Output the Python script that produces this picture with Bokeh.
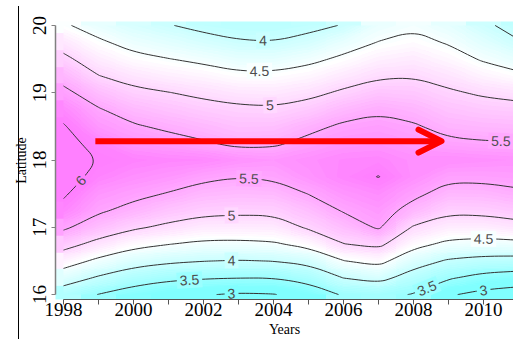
import math
import numpy as np
import contourpy
from bokeh.plotting import figure
from bokeh.models import (Range1d, FixedTicker, LinearColorMapper, Arrow, OpenHead,
                          ColumnDataSource)
from bokeh.core.properties import value, field
from bokeh.embed import file_html
from bokeh.resources import INLINE

# ---------------- data ----------------
years = [1998, 1999, 2000, 2001, 2002, 2003, 2004, 2005, 2006, 2007, 2008, 2009, 2010, 2011]
lats = [16.0, 16.25, 16.5, 16.75, 17.0, 17.25, 17.5, 17.75, 18.0,
        18.25, 18.5, 18.75, 19.0, 19.25, 19.5, 19.75, 20.0]

# field values along latitude (south -> north) for each year
col_1998 = [3.74, 4.24, 4.71, 5.16, 5.57, 5.88, 6.05, 6.15, 6.17, 6.10, 6.03, 5.85, 5.60, 5.35, 5.09, 4.83, 4.55]
col_1999 = [3.49, 3.95, 4.41, 4.87, 5.27, 5.56, 5.71, 5.90, 5.99, 5.90, 5.69, 5.53, 5.28, 5.01, 4.78, 4.56, 4.33]
col_2000 = [3.28, 3.73, 4.18, 4.63, 5.06, 5.38, 5.60, 5.78, 5.92, 5.71, 5.54, 5.32, 5.09, 4.85, 4.60, 4.37, 4.15]
col_2001 = [3.12, 3.60, 4.07, 4.51, 4.92, 5.21, 5.48, 5.70, 5.87, 5.64, 5.43, 5.22, 5.01, 4.75, 4.51, 4.26, 4.02]
col_2002 = [3.03, 3.54, 4.01, 4.42, 4.80, 5.11, 5.34, 5.58, 5.85, 5.54, 5.33, 5.13, 4.92, 4.68, 4.42, 4.14, 3.90]
col_2003 = [2.95, 3.51, 3.98, 4.41, 4.79, 5.08, 5.30, 5.51, 5.75, 5.41, 5.24, 5.07, 4.84, 4.58, 4.31, 4.03, 3.85]
col_2004 = [2.98, 3.51, 4.01, 4.45, 4.80, 5.09, 5.32, 5.55, 5.70, 5.44, 5.25, 5.05, 4.82, 4.58, 4.30, 4.01, 3.85]
col_2005 = [3.20, 3.67, 4.11, 4.63, 5.05, 5.27, 5.51, 5.72, 5.78, 5.60, 5.40, 5.15, 4.90, 4.66, 4.41, 4.12, 3.90]
col_2006 = [3.55, 4.01, 4.49, 4.99, 5.28, 5.53, 5.71, 5.88, 5.86, 5.71, 5.56, 5.33, 5.06, 4.81, 4.57, 4.33, 4.02]
col_2007 = [3.60, 4.15, 4.63, 5.10, 5.55, 5.68, 5.81, 6.01, 5.88, 5.74, 5.61, 5.45, 5.20, 4.95, 4.73, 4.51, 4.35]
col_2008 = [3.48, 3.80, 4.20, 4.63, 4.96, 5.34, 5.60, 5.78, 5.78, 5.66, 5.54, 5.37, 5.17, 4.98, 4.79, 4.60, 4.45]
col_2009 = [3.05, 3.55, 3.95, 4.41, 4.77, 5.08, 5.34, 5.59, 5.80, 5.57, 5.38, 5.22, 5.05, 4.86, 4.66, 4.47, 4.30]
col_2010 = [2.86, 3.36, 3.86, 4.36, 4.77, 5.10, 5.35, 5.59, 5.77, 5.53, 5.34, 5.15, 4.95, 4.70, 4.46, 4.25, 4.05]
col_2011 = [2.76, 3.28, 3.84, 4.39, 4.86, 5.18, 5.44, 5.62, 5.74, 5.52, 5.32, 5.12, 4.88, 4.58, 4.30, 4.02, 3.90]

contour_levels = [3, 3.5, 4, 4.5, 5, 5.5, 6]

# where the contour labels sit (level, approximate year, approximate latitude)
label_levels = [4, 4.5, 5, 5.5, 6, 5.5, 5, 4, 3.5, 3, 4.5, 3.5, 3]
label_years = [2003.7, 2003.6, 2003.9, 2010.5, 1998.7, 2003.3, 2002.8, 2002.8, 2001.6, 2002.8, 2010.0, 2008.4, 2010.0]
label_lats = [19.77, 19.3, 18.82, 18.3, 17.6, 17.74, 17.15, 16.5, 16.22, 16.01, 16.8, 16.07, 16.07]

x_ticks = [1998, 1999, 2000, 2001, 2002, 2003, 2004, 2005, 2006, 2007, 2008, 2009, 2010]
x_tick_labels = ["1998", "", "2000", "", "2002", "", "2004", "", "2006", "", "2008", "", "2010"]
y_ticks = [16, 17, 18, 19, 20]

arrow_years = [1998.91, 2008.8]
arrow_lat = 18.28

# colour scale limits (cyan -> white -> magenta)
color_low, color_high = 3.2, 5.95

# ---------------- layout ----------------
W, H = 513, 339
FL, FR, FT, FB = 55, 513, 21, 302          # frame edges in canvas pixels
FW, FH = FR - FL, FB - FT
X0, X1 = 1998 - 8 / 35, 1998 + 450 / 35
Y0, Y1 = 20 - 277 / 68, 20 + 4 / 68
SX, SY = FW / (X1 - X0), FH / (Y1 - Y0)

SERIF = "'Liberation Serif', 'Times New Roman', serif"

X = np.array(years, dtype=float)
Y = np.array(lats, dtype=float)
Z = np.array([col_1998, col_1999, col_2000, col_2001, col_2002, col_2003, col_2004,
              col_2005, col_2006, col_2007, col_2008, col_2009, col_2010, col_2011], dtype=float).T
zmin, zmax = float(Z.min()), float(Z.max())


def cm_rgb(t):
    t = min(max(t, 0.0), 1.0)
    if t < 0.5:
        s = 0.5 * (1 - 2 * t)
        return (round(255 * (1 - s)), 255, 255)
    s = 0.5 * (2 * t - 1)
    return (255, round(255 * (1 - s)), 255)


def hexc(rgb):
    return "#%02x%02x%02x" % rgb


def zcol(v):
    return hexc(cm_rgb((v - color_low) / (color_high - color_low)))


palette = [hexc(cm_rgb(i / 255)) for i in range(256)]

p = figure(width=W, height=H, x_range=Range1d(X0, X1), y_range=Range1d(Y0, Y1),
           output_backend="svg", toolbar_location=None,
           min_border_left=FL, min_border_right=W - FR, min_border_top=FT, min_border_bottom=H - FB)
p.outline_line_color = None
p.grid.visible = False
p.background_fill_color = "white"
p.border_fill_alpha = 0
# thin black vertical rule at the far left of the picture
p.styles = {
    "background-color": "white",
    "background-image": "linear-gradient(black, black)",
    "background-size": "1px 333px",
    "background-position": "18px 6px",
    "background-repeat": "no-repeat",
}

dx = X[1] - X[0]
dy = Y[1] - Y[0]
mapper = LinearColorMapper(palette=palette, low=color_low, high=color_high,
                           low_color=palette[0], high_color=palette[-1])
p.image(image=[Z], x=X[0] - dx / 2, y=Y[0] - dy / 2, dw=dx * len(X), dh=dy * len(Y),
        color_mapper=mapper)

step = 0.05
fill_levels = list(np.arange(math.floor(zmin / step) * step, zmax + step, step))
band_colors = [zcol((a + b) / 2) for a, b in zip(fill_levels[:-1], fill_levels[1:])]
p.contour(x=X, y=Y, z=Z, levels=fill_levels, fill_color=band_colors, line_color=None)

# ---- contour lines (computed by contourpy, corner-rounded for drawing) ----
gen = contourpy.contour_generator(x=X, y=Y, z=Z)


def chaikin(pts, n=3):
    closed = len(pts) > 3 and np.allclose(pts[0], pts[-1])
    for _ in range(n):
        if len(pts) < 3:
            break
        q = 0.75 * pts[:-1] + 0.25 * pts[1:]
        r = 0.25 * pts[:-1] + 0.75 * pts[1:]
        new = np.empty((2 * len(q), 2))
        new[0::2] = q
        new[1::2] = r
        if closed:
            pts = np.vstack([new, new[:1]])
        else:
            pts = np.vstack([pts[:1], new, pts[-1:]])
    return pts


lines_by_level = {}
mx, my = [], []
for lev in contour_levels:
    segs = [chaikin(np.asarray(s, dtype=float)) for s in gen.lines(lev)]
    lines_by_level[lev] = segs
    for s in segs:
        mx.append(list(s[:, 0]))
        my.append(list(s[:, 1]))
p.multi_line(xs=mx, ys=my, line_color="#333333", line_width=1)


def place(level, tx, ty):
    best = None
    for pts in lines_by_level[level]:
        for i in range(len(pts) - 1):
            x0, y0 = pts[i]
            x1, y1 = pts[i + 1]
            ax, ay = (x1 - x0) * SX, (y1 - y0) * SY
            bx, by = (tx - x0) * SX, (ty - y0) * SY
            L2 = ax * ax + ay * ay
            t = 0.0 if L2 == 0 else max(0.0, min(1.0, (ax * bx + ay * by) / L2))
            px, py = x0 + t * (x1 - x0), y0 + t * (y1 - y0)
            d = ((px - tx) * SX) ** 2 + ((py - ty) * SY) ** 2
            if best is None or d < best[0]:
                ang = math.atan2(ay, ax)
                if ang > math.pi / 2:
                    ang -= math.pi
                if ang < -math.pi / 2:
                    ang += math.pi
                best = (d, px, py, ang)
    return best[1], best[2], best[3]


lx, ly, la, lt, lb = [], [], [], [], []
for lev, tx, ty in zip(label_levels, label_years, label_lats):
    px, py, ang = place(lev, tx, ty)
    lx.append(px)
    ly.append(py)
    la.append(ang)
    lt.append("%g" % lev)
    lb.append(zcol(lev))

src = ColumnDataSource(dict(x=lx, y=ly, text=lt, angle=la, bg=lb))
p.text(x="x", y="y", text="text", angle="angle", source=src,
       text_align="center", text_baseline="middle",
       text_font=value("Liberation Sans"), text_font_size="14px", text_color="#4d4d4d",
       background_fill_color=field("bg"), padding=3)

# ---- red arrow ----
p.add_layout(Arrow(end=OpenHead(size=23, line_color="red", line_width=6,
                                line_cap="round", line_join="round"),
                   x_start=arrow_years[0], y_start=arrow_lat,
                   x_end=arrow_years[1], y_end=arrow_lat,
                   line_color="red", line_width=6))

# ---- axes ----
xa = p.xaxis[0]
xa.ticker = FixedTicker(ticks=x_ticks)
xa.major_label_overrides = {t: s for t, s in zip(x_ticks, x_tick_labels)}
xa.bounds = (1998, 2011)
xa.axis_line_color = "#555555"
xa.axis_line_width = 1
xa.major_tick_line_color = "#555555"
xa.major_tick_out = 5
xa.major_tick_in = 0
xa.minor_tick_line_color = None
xa.major_label_standoff = -2
xa.major_label_text_font = SERIF
xa.major_label_text_font_size = "19px"
xa.major_label_text_color = "black"
xa.axis_label = "Years"
xa.axis_label_standoff = 3
xa.axis_label_text_font = SERIF
xa.axis_label_text_font_size = "14px"
xa.axis_label_text_font_style = "normal"
xa.axis_label_text_color = "black"

ya = p.yaxis[0]
ya.ticker = FixedTicker(ticks=y_ticks)
ya.bounds = (16, 20)
ya.axis_line_color = "#808080"
ya.axis_line_width = 1.5
ya.major_tick_line_color = "#808080"
ya.major_tick_out = 4
ya.major_tick_in = 0
ya.minor_tick_line_color = None
ya.major_label_orientation = "vertical"
ya.major_label_standoff = 5
ya.major_label_text_font = SERIF
ya.major_label_text_font_size = "19px"
ya.major_label_text_color = "black"
ya.axis_label = "Latitude"
ya.axis_label_standoff = 2
ya.axis_label_text_font = SERIF
ya.axis_label_text_font_size = "14px"
ya.axis_label_text_font_style = "normal"
ya.axis_label_text_color = "black"

open("out.html", "w").write(file_html(p, INLINE))
